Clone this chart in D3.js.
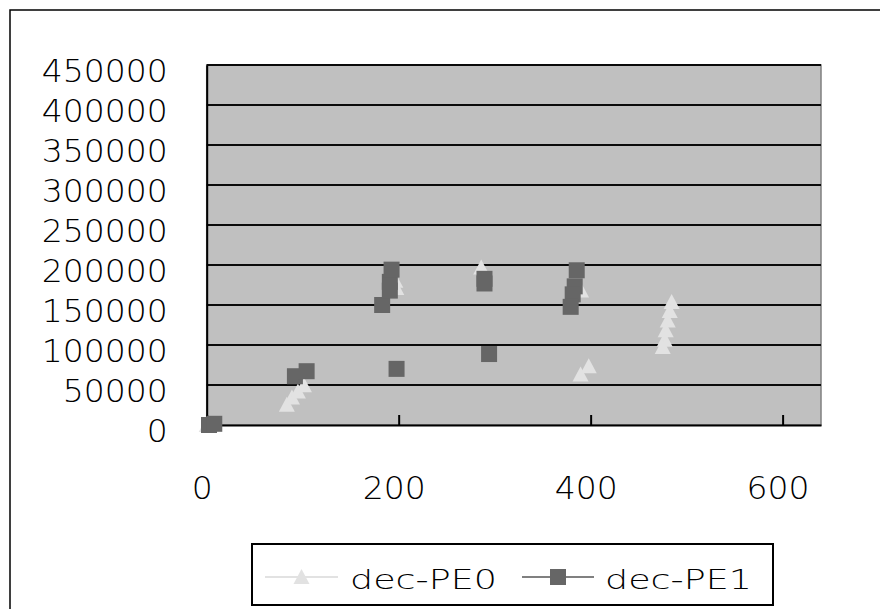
<!DOCTYPE html>
<html>
<head>
<meta charset="utf-8">
<script src="https://cdn.jsdelivr.net/npm/d3@7"></script>
<style>
  html, body { margin: 0; padding: 0; background: #ffffff; }
  svg { display: block; }
</style>
</head>
<body>
<div id="chart"></div>
<script>
// Series: decode timings for two processing elements (x, y pairs)
const pe0X = [0, 83.5, 88.8, 95, 101.3, 196.5, 197.5, 286, 390, 389.5, 398, 484.4, 482.4, 480.3, 478.2, 477.2, 475.1];
const pe0Y = [0, 25400, 34400, 42000, 49600, 180400, 171200, 197000, 168000, 63200, 73400, 153800, 142400, 130500, 118500, 106600, 97500];

const pe1X = [2.4, 7.9, 91.9, 104.1, 197.8, 182.8, 190.8, 190.8, 192.6, 289.4, 289.4, 294.2, 385.5, 383.4, 381.3, 379.2];
const pe1Y = [0, 1500, 60960, 67250, 70150, 150000, 168000, 178900, 194200, 182700, 176900, 88700, 193400, 173300, 163300, 147700];

const seriesNames = ["dec-PE0", "dec-PE1"];
const xTicks = [0, 200, 400, 600];
const yTicks = [0, 50000, 100000, 150000, 200000, 250000, 300000, 350000, 400000, 450000];
const xMax = 640;
const yMax = 450000;

const W = 880, H = 609;
const plot = { left: 206.7, right: 821, top: 65, bottom: 425 };
const FONT = "'DejaVu Sans', 'Liberation Sans', sans-serif";
const WEIGHT = 200;

const svg = d3.select("#chart").append("svg")
  .attr("width", W).attr("height", H);

// chart area frame
svg.append("rect")
  .attr("x", 10).attr("y", 10)
  .attr("width", W + 20).attr("height", H + 20)
  .attr("fill", "#ffffff").attr("stroke", "#000").attr("stroke-width", 1.5);

const x = d3.scaleLinear().domain([0, xMax]).range([plot.left, plot.right]);
const y = d3.scaleLinear().domain([0, yMax]).range([plot.bottom, plot.top]);

// plot background
svg.append("rect")
  .attr("x", plot.left).attr("y", plot.top)
  .attr("width", plot.right - plot.left).attr("height", plot.bottom - plot.top)
  .attr("fill", "#c0c0c0").attr("stroke", "#808080").attr("stroke-width", 1.5);

// horizontal gridlines
svg.append("g").selectAll("line")
  .data(yTicks.filter(v => v > 0))
  .join("line")
  .attr("x1", plot.left).attr("x2", plot.right)
  .attr("y1", d => y(d)).attr("y2", d => y(d))
  .attr("stroke", "#0a0a0a").attr("stroke-width", 2);

// y axis
const yAxis = svg.append("g")
  .attr("transform", `translate(${plot.left},0)`)
  .call(d3.axisLeft(y).tickValues(yTicks).tickSize(0).tickPadding(39).tickFormat(d => String(d)));
yAxis.select(".domain").attr("stroke", "#000").attr("stroke-width", 2);
yAxis.selectAll("text")
  .attr("dy", null)
  .attr("y", 16)
  .attr("font-family", FONT)
  .attr("font-weight", WEIGHT)
  .attr("font-size", 32)
  .attr("fill", "#000")
  .attr("textLength", d => String(d).length * 21)
  .attr("lengthAdjust", "spacingAndGlyphs");

// x axis with inward ticks
const xAxis = svg.append("g")
  .attr("transform", `translate(0,${plot.bottom})`)
  .call(d3.axisBottom(x).tickValues(xTicks).tickSizeInner(-10).tickSizeOuter(0).tickFormat(d => String(d)));
xAxis.select(".domain").attr("stroke", "#000").attr("stroke-width", 2);
xAxis.selectAll(".tick line").attr("stroke", "#000").attr("stroke-width", 2);
xAxis.selectAll("text")
  .attr("dy", null)
  .attr("y", 74)
  .attr("x", -5)
  .attr("font-family", FONT)
  .attr("font-weight", WEIGHT)
  .attr("font-size", 32)
  .attr("fill", "#000")
  .attr("textLength", d => String(d).length * 21)
  .attr("lengthAdjust", "spacingAndGlyphs");

const triPath = "M0,-8L8,7L-8,7Z";

// dec-PE0 markers (light triangles)
svg.append("g").selectAll("path")
  .data(pe0X.map((v, i) => [v, pe0Y[i]]))
  .join("path")
  .attr("d", triPath)
  .attr("transform", d => `translate(${x(d[0])},${y(d[1])})`)
  .attr("fill", "#e2e2e2");

// dec-PE1 markers (dark squares)
svg.append("g").selectAll("rect")
  .data(pe1X.map((v, i) => [v, pe1Y[i]]))
  .join("rect")
  .attr("x", d => x(d[0]) - 8)
  .attr("y", d => y(d[1]) - 8)
  .attr("width", 16).attr("height", 16)
  .attr("fill", "#666666");

// legend
const legend = svg.append("g");
legend.append("rect")
  .attr("x", 252).attr("y", 544).attr("width", 521).attr("height", 61)
  .attr("fill", "#ffffff").attr("stroke", "#000").attr("stroke-width", 2);

const legendItems = [
  { name: seriesNames[0], x0: 265, x1: 338, tx: 350, line: "#e2e2e2", kind: "tri" },
  { name: seriesNames[1], x0: 522, x1: 594, tx: 605, line: "#808080", kind: "sq" }
];
const ly = 577;
legendItems.forEach(it => {
  legend.append("line")
    .attr("x1", it.x0).attr("x2", it.x1).attr("y1", ly).attr("y2", ly)
    .attr("stroke", it.line).attr("stroke-width", 2);
  const cx = (it.x0 + it.x1) / 2;
  if (it.kind === "tri") {
    legend.append("path").attr("d", triPath)
      .attr("transform", `translate(${cx},${ly})`)
      .attr("fill", "#e2e2e2");
  } else {
    legend.append("rect")
      .attr("x", cx - 8).attr("y", ly - 8).attr("width", 16).attr("height", 16)
      .attr("fill", "#666666");
  }
  legend.append("text")
    .attr("x", it.tx).attr("y", 589)
    .attr("font-family", FONT).attr("font-weight", WEIGHT).attr("font-size", 27)
    .attr("fill", "#000")
    .attr("textLength", 147)
    .attr("lengthAdjust", "spacingAndGlyphs")
    .text(it.name);
});
</script>
</body>
</html>
